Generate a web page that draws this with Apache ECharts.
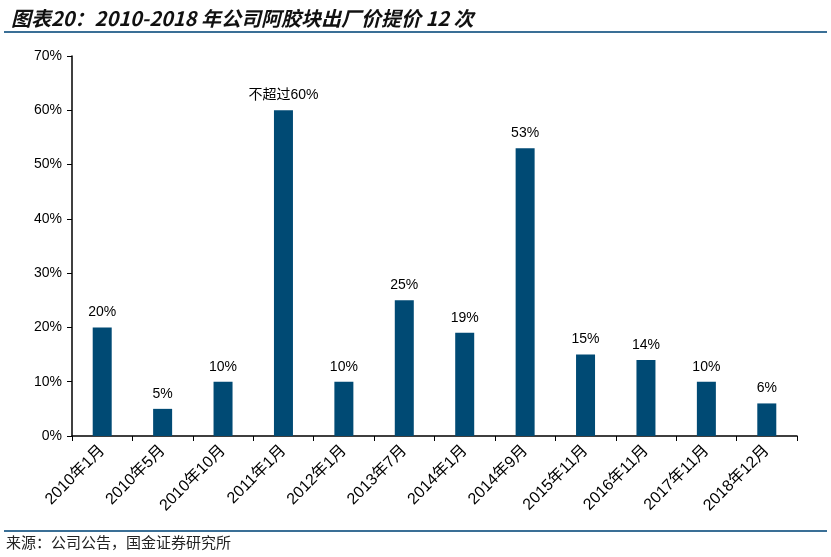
<!DOCTYPE html>
<html><head><meta charset="utf-8">
<script src="https://cdn.jsdelivr.net/npm/echarts@6/dist/echarts.min.js"></script>
<style>html,body{margin:0;padding:0;background:#fff}#c{width:831px;height:557px}</style>
</head><body><div id="c"></div>
<script>
const categories = ['2010年1月','2010年5月','2010年10月','2011年1月','2012年1月','2013年7月','2014年1月','2014年9月','2015年11月','2016年11月','2017年11月','2018年12月'];
const values = [20,5,10,60,10,25,19,53,15,14,10,6];
const labels = ['20%','5%','10%','不超过60%','10%','25%','19%','53%','15%','14%','10%','6%'];
const yTicks = [0,10,20,30,40,50,60,70];

const chart = echarts.init(document.getElementById('c'));
chart.setOption({
  animation:false,
  backgroundColor:'#fff',
  title:{text:'图表20：2010-2018 年公司阿胶块出厂价提价 12 次',left:6,top:3,
    textStyle:{fontFamily:'Noto Sans CJK SC',fontSize:20,fontWeight:'bold',fontStyle:'italic',color:'#111'}},
  graphic:[
    {type:'rect',shape:{x:4,y:31,width:823,height:2},style:{fill:'#3a6f96'}},
    {type:'rect',shape:{x:4,y:530,width:823,height:2},style:{fill:'#3a6f96'}},
    {type:'text',left:6,top:535,style:{text:'来源：公司公告，国金证券研究所',font:'15px "Noto Sans CJK SC"',fill:'#222'}}
  ],
  grid:{left:72,right:34,top:56,bottom:121},
  xAxis:{type:'category',data:categories,
    axisLine:{lineStyle:{color:'#000',width:1.5}},
    axisTick:{show:true,alignWithLabel:false,length:5,lineStyle:{color:'#000'}},
    axisLabel:{rotate:45,interval:0,color:'#000',fontFamily:'Liberation Sans, Noto Sans CJK SC',fontSize:16,margin:12}},
  yAxis:{type:'value',min:0,max:70,interval:10,
    axisLine:{show:true,lineStyle:{color:'#000',width:1.5}},
    axisTick:{show:true,length:5,lineStyle:{color:'#000'}},
    splitLine:{show:false},
    axisLabel:{color:'#000',fontFamily:'Liberation Sans',fontSize:14,margin:10,formatter:v=>v+'%'}},
  series:[{type:'bar',data:values,barWidth:19,itemStyle:{color:'#004a74'},
    label:{show:true,position:'top',distance:8,color:'#000',fontFamily:'Liberation Sans, Noto Sans CJK SC',fontSize:14,
      formatter:p=>labels[p.dataIndex]}}]
});
</script></body></html>
